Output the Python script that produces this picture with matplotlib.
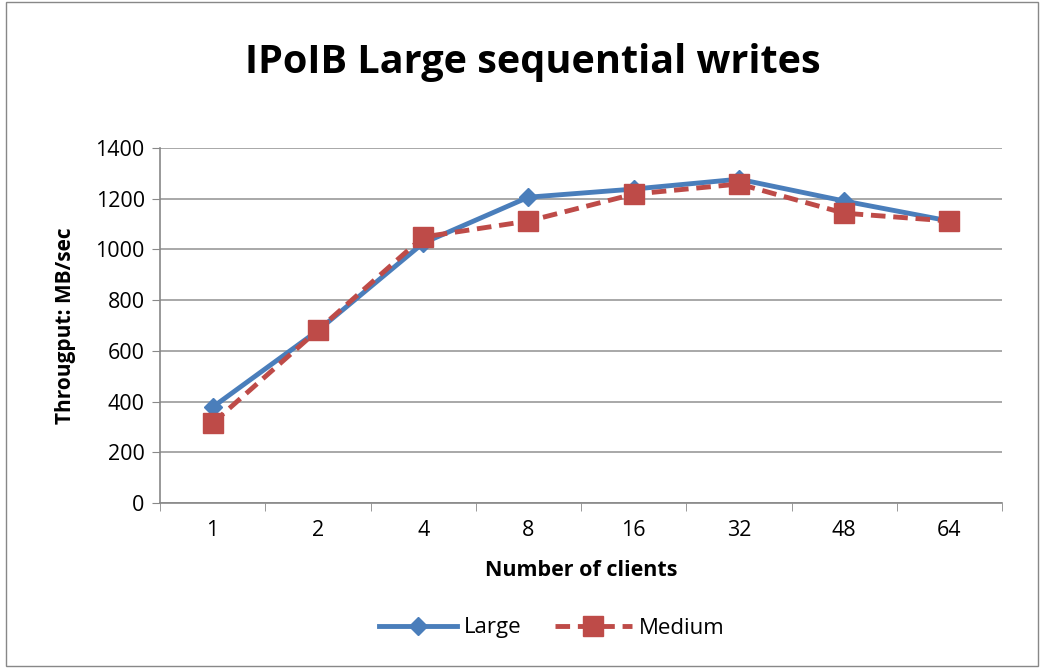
import matplotlib.pyplot as plt
from matplotlib.patches import Rectangle

clients = ["1", "2", "4", "8", "16", "32", "48", "64"]
large = [378, 680, 1025, 1206, 1238, 1277, 1191, 1112]
medium = [315, 682, 1049, 1112, 1218, 1258, 1143, 1112]

plt.rcParams['font.family'] = ['Open Sans', 'DejaVu Sans']

fig = plt.figure(figsize=(10.44, 6.68), dpi=100)
fig.patches.append(Rectangle((0.006, 0.003), 0.988, 0.994, transform=fig.transFigure,
                             fill=False, edgecolor='#888888', linewidth=1))
ax = fig.add_axes([160/1044, 1-503/668, (1002-160)/1044, (503-148)/668])

x = list(range(len(clients)))
ax.plot(x, large, color='#4a7ebb', linewidth=3.5, marker='D', markersize=9,
        label='Large', zorder=3)
ax.plot(x, medium, color='#be4b48', linewidth=3.5, linestyle=(0, (3, 1.6)),
        marker='s', markersize=14, label='Medium', zorder=4)

ax.set_xlim(-0.5, len(clients) - 0.5)
ax.set_ylim(0, 1400)
ax.set_yticks(range(0, 1401, 200))
ax.set_xticks(x)
ax.set_xticklabels(clients)
ax.set_xticks([i - 0.5 for i in range(len(clients) + 1)], minor=True)
ax.tick_params(axis='x', which='major', length=0, pad=12, labelsize=15.5)
ax.tick_params(axis='x', which='minor', length=6, color='#888888')
ax.tick_params(axis='y', length=6, color='#888888', labelsize=15.5, pad=5)
ax.grid(axis='y', color='#999999', linewidth=1.2)
ax.set_axisbelow(True)
for s in ['top', 'right']:
    ax.spines[s].set_visible(False)
for s in ['left', 'bottom']:
    ax.spines[s].set_color('#888888')
    ax.spines[s].set_linewidth(1.2)

ax.set_xlabel('Number of clients', fontsize=15.5, fontweight='bold', labelpad=14)
ax.set_ylabel('Througput: MB/sec', fontsize=15, fontweight='bold', labelpad=14)
fig.text(533/1044, 1-62/668, 'IPoIB Large sequential writes', fontsize=28.5,
         fontweight='bold', ha='center', va='center')

fig.legend(loc='center', bbox_to_anchor=(552/1044, 1-628/668), ncol=2, frameon=False,
           fontsize=16, handlelength=3.5, columnspacing=1.5, handletextpad=0.3)

fig.savefig('out.png', dpi=100)
